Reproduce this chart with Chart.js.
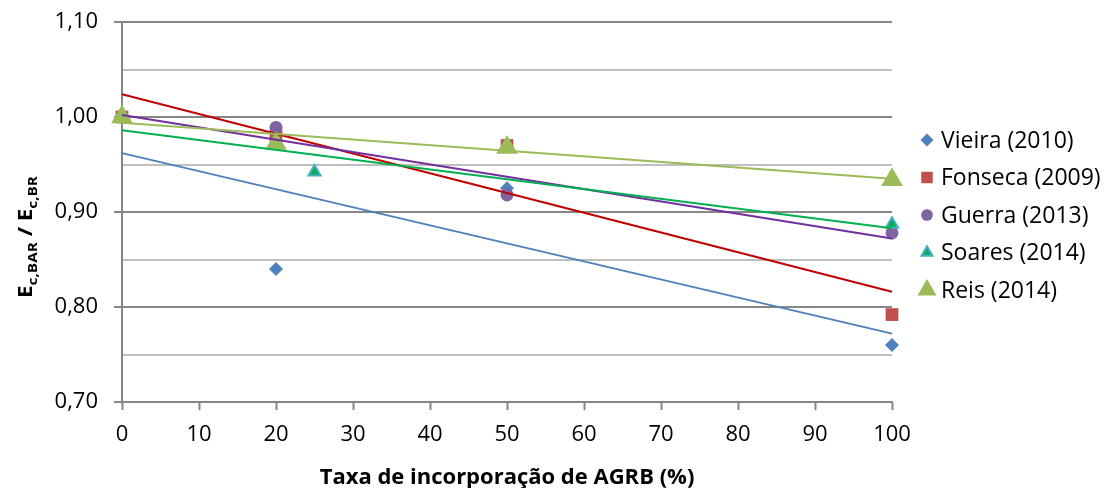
<!DOCTYPE html>
<html>
<head>
<meta charset="utf-8">
<script src="https://cdn.jsdelivr.net/npm/chart.js@4/dist/chart.umd.min.js"></script>
<style>
  html, body { margin: 0; padding: 0; background: #fff; }
  #wrap { width: 1107px; height: 488px; }
</style>
</head>
<body>
<div id="wrap"><canvas id="chart"></canvas></div>
<script>
// series labels
const seriesNames = ['Vieira (2010)', 'Fonseca (2009)', 'Guerra (2013)', 'Soares (2014)', 'Reis (2014)'];

// measured points (x = taxa de incorporação, y = Ec,BAR / Ec,BR)
const vieiraX  = [0, 20, 50, 100];
const vieiraY  = [1.00, 0.840, 0.925, 0.760];
const fonsecaX = [0, 20, 50, 100];
const fonsecaY = [1.00, 0.980, 0.970, 0.792];
const guerraX  = [0, 20, 50, 100];
const guerraY  = [1.00, 0.989, 0.918, 0.878];
const soaresX  = [0, 25, 100];
const soaresY  = [1.00, 0.942, 0.887];
const reisX    = [0, 20, 50, 100];
const reisY    = [1.00, 0.972, 0.968, 0.934];

// linear trendlines, values read at x = 0 and x = 100
const trendX       = [0, 100];
const vieiraTrend  = [0.962, 0.772];
const fonsecaTrend = [1.024, 0.816];
const guerraTrend  = [1.002, 0.872];
const soaresTrend  = [0.986, 0.883];
const reisTrend    = [0.994, 0.935];

// axis labels
const yTickLabels = ['0,70', '0,80', '0,90', '1,00', '1,10'];
const xTitle = 'Taxa de incorporação de AGRB (%)';

const FONT = '"Open Sans", "Noto Sans", sans-serif';

const pts = (xs, ys) => xs.map((x, i) => ({ x: x, y: ys[i] }));

const markers = [
  { style: 'rectRot',  radius: 7,    fill: '#4F81BD', border: '#4F81BD', bw: 0 },
  { style: 'rect',     radius: 9,    fill: '#C0504D', border: '#C0504D', bw: 0 },
  { style: 'circle',   radius: 6.5,  fill: '#8064A2', border: '#8064A2', bw: 0 },
  { style: 'triangle', radius: 7,    fill: '#00B050', border: '#4BACC6', bw: 2 },
  { style: 'triangle', radius: 12.5, fill: '#9BBB59', border: '#9BBB59', bw: 0 }
];
const trendColors = ['#4F81BD', '#C00000', '#7030A0', '#00B050', '#9BBB59'];

const pointSets = [pts(vieiraX, vieiraY), pts(fonsecaX, fonsecaY), pts(guerraX, guerraY),
                   pts(soaresX, soaresY), pts(reisX, reisY)];
const trendSets = [vieiraTrend, fonsecaTrend, guerraTrend, soaresTrend, reisTrend];

const datasets = [];
pointSets.forEach((d, i) => {
  const m = markers[i];
  datasets.push({
    type: 'scatter',
    label: seriesNames[i],
    data: d,
    pointStyle: m.style,
    pointRadius: m.radius,
    pointHoverRadius: m.radius,
    backgroundColor: m.fill,
    borderColor: m.border,
    pointBorderWidth: m.bw,
    clip: false,
    order: 10 - i
  });
});
trendSets.forEach((t, i) => {
  datasets.push({
    type: 'line',
    label: 'trend ' + seriesNames[i],
    data: pts(trendX, t),
    borderColor: trendColors[i],
    borderWidth: 2,
    pointRadius: 0,
    fill: false,
    clip: false,
    order: 4 - i
  });
});

// y axis title with subscripts (stretched along the text like the original)
const yTitlePlugin = {
  id: 'yTitle',
  afterDraw(chart) {
    const ctx = chart.ctx;
    const parts = [
      ['E', 19, 0], ['c,BAR', 13, 5], [' / ', 19, 0], ['E', 19, 0], ['c,BR', 13, 5]
    ];
    ctx.save();
    let total = 0;
    parts.forEach(p => { ctx.font = 'bold ' + p[1] + 'px ' + FONT; total += ctx.measureText(p[0]).width; });
    const stretch = 122 / total;
    ctx.translate(26, 237);
    ctx.rotate(-Math.PI / 2);
    ctx.scale(stretch, 1);
    ctx.fillStyle = '#000';
    ctx.textBaseline = 'alphabetic';
    let x = -total / 2;
    parts.forEach(p => {
      ctx.font = 'bold ' + p[1] + 'px ' + FONT;
      ctx.fillText(p[0], x, 6 + p[2]);
      x += ctx.measureText(p[0]).width;
    });
    ctx.restore();
  }
};

// legend on the right
const legendPlugin = {
  id: 'rightLegend',
  afterDraw(chart) {
    const ctx = chart.ctx;
    const rowY = [140, 177.5, 215, 252.5, 290];
    ctx.save();
    seriesNames.forEach((name, i) => {
      const m = markers[i];
      ctx.fillStyle = m.fill;
      ctx.strokeStyle = m.border;
      ctx.lineWidth = m.bw;
      const r = i === 4 ? 11 : (i === 0 ? 6.5 : m.radius * 0.9);
      Chart.helpers.drawPoint(ctx, { pointStyle: m.style, radius: r, rotation: 0, borderWidth: m.bw }, 927, rowY[i]);
      ctx.fillStyle = '#000';
      ctx.font = '23px ' + FONT;
      ctx.textBaseline = 'middle';
      ctx.textAlign = 'left';
      ctx.fillText(name, 941, rowY[i] + 1);
    });
    ctx.restore();
  }
};

const isMajor = v => Math.round(v * 100) % 10 === 0;

new Chart(document.getElementById('chart'), {
  data: { datasets: datasets },
  options: {
    responsive: true,
    maintainAspectRatio: false,
    animation: false,
    layout: { padding: { top: 22, right: 215, left: 0, bottom: 0 } },
    plugins: {
      legend: { display: false },
      tooltip: { enabled: false }
    },
    scales: {
      x: {
        type: 'linear',
        min: 0,
        max: 100,
        ticks: { stepSize: 10, color: '#000', font: { family: FONT, size: 22 }, padding: 12, maxRotation: 0 },
        grid: { drawOnChartArea: false, color: '#868686', tickLength: 8, tickWidth: 2 },
        border: { color: '#868686', width: 2 },
        title: { display: true, text: xTitle, color: '#000', font: { family: FONT, size: 22, weight: 'bold', lineHeight: 0.9 }, padding: { top: 0, bottom: 0 } },
        afterFit(scale) { scale.height = 86; }
      },
      y: {
        type: 'linear',
        min: 0.70,
        max: 1.10,
        ticks: {
          stepSize: 0.05,
          color: '#000',
          font: { family: FONT, size: 22 },
          padding: 16,
          callback(v) {
            const i = Math.round((v - 0.70) / 0.05);
            return i % 2 === 0 ? yTickLabels[i / 2] : '';
          }
        },
        grid: {
          color: c => isMajor(c.tick.value) ? '#868686' : '#BFBFBF',
          tickColor: c => isMajor(c.tick.value) ? '#868686' : 'rgba(0,0,0,0)',
          lineWidth: 2,
          tickLength: 8
        },
        border: { color: '#868686', width: 2 },
        afterFit(scale) {
          scale.width = 122;
          scale.paddingTop = 0;
          scale.paddingBottom = 0;
        }
      }
    }
  },
  plugins: [yTitlePlugin, legendPlugin]
});
</script>
</body>
</html>
